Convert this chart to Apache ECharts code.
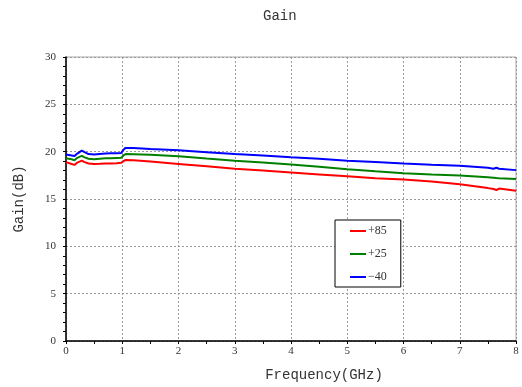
<!DOCTYPE html>
<html>
<head>
<meta charset="utf-8">
<script src="https://cdn.jsdelivr.net/npm/echarts@6/dist/echarts.min.js"></script>
<style>
  html, body { margin: 0; padding: 0; background: #fff; }
  #chart { width: 522px; height: 387px; }
</style>
</head>
<body>
<div id="chart"></div>
<script>
// frequency points (GHz)
const freq = [0, 0.1, 0.15, 0.2, 0.28, 0.33, 0.4, 0.5, 0.6, 0.7, 0.8, 0.9, 0.98, 1.02, 1.06,
  1.2, 1.5, 2, 2.5, 3, 3.5, 4, 4.5, 5, 5.5, 6, 6.5, 7, 7.5, 7.6, 7.65, 7.7, 8];

const gain85 = [18.9, 18.7, 18.6, 18.85, 19.05, 18.9, 18.75, 18.7, 18.72, 18.75, 18.75, 18.78, 18.82, 19.0, 19.12,
  19.1, 18.95, 18.7, 18.45, 18.2, 18.0, 17.8, 17.6, 17.4, 17.2, 17.05, 16.85, 16.55, 16.15, 16.05, 15.95, 16.1, 15.87];
const gain25 = [19.3, 19.2, 19.1, 19.35, 19.55, 19.4, 19.25, 19.2, 19.25, 19.3, 19.3, 19.33, 19.35, 19.6, 19.75,
  19.74, 19.67, 19.52, 19.28, 19.05, 18.85, 18.65, 18.4, 18.15, 17.92, 17.73, 17.6, 17.48, 17.3, 17.25, 17.22, 17.2, 17.1];
const gainM40 = [19.7, 19.6, 19.55, 19.8, 20.1, 19.95, 19.75, 19.7, 19.75, 19.8, 19.82, 19.83, 19.85, 20.2, 20.4,
  20.38, 20.28, 20.15, 19.95, 19.75, 19.6, 19.42, 19.25, 19.05, 18.9, 18.75, 18.62, 18.5, 18.3, 18.2, 18.3, 18.2, 18.05];

const seriesNames = ['+85', '+25', '\u221240'];
const seriesColors = ['#ff0000', '#008000', '#0000ff'];
const seriesData = [gain85, gain25, gainM40];

const monoFont = '"Liberation Mono", monospace';
const serifFont = '"Liberation Serif", serif';

const chart = echarts.init(document.getElementById('chart'));
chart.setOption({
  animation: false,
  title: {
    text: 'Gain',
    left: 258,
    top: 4,
    textStyle: { fontFamily: monoFont, fontSize: 14, fontWeight: 'normal', color: '#333' },
  },
  legend: {
    orient: 'vertical',
    left: 335,
    top: 220,
    padding: [5, 14, 4, 15],
    itemWidth: 16,
    itemHeight: 10,
    itemGap: 11,
    icon: 'path://M0,0 H16 V2 H0 Z',
    borderColor: '#000',
    borderWidth: 1,
    backgroundColor: '#fff',
    textStyle: { fontFamily: serifFont, fontSize: 12, color: '#333', padding: [0, 0, 0, -3] },
    data: seriesNames,
  },
  grid: {
    left: 66,
    right: 6,
    top: 57,
    bottom: 44,
    show: true,
    borderColor: '#aaa',
    borderWidth: 1,
  },
  xAxis: {
    type: 'value',
    min: 0,
    max: 8,
    interval: 1,
    name: 'Frequency(GHz)',
    nameLocation: 'middle',
    nameGap: 27,
    nameTextStyle: { fontFamily: monoFont, fontSize: 14, color: '#333', padding: [0, 0, 0, 66] },
    axisLine: { onZero: false, lineStyle: { color: '#000', width: 1.5 } },
    axisTick: { length: 3, lineStyle: { color: '#000' } },
    minorTick: { show: true, splitNumber: 2, length: 3, lineStyle: { color: '#000' } },
    axisLabel: { margin: 5, fontFamily: serifFont, fontSize: 11, color: '#333' },
    splitLine: { lineStyle: { color: '#999', type: [2, 2] } },
  },
  yAxis: {
    type: 'value',
    min: 0,
    max: 30,
    interval: 5,
    name: 'Gain(dB)',
    nameLocation: 'middle',
    nameGap: 40,
    nameTextStyle: { fontFamily: monoFont, fontSize: 14, color: '#333' },
    axisLine: { show: true, lineStyle: { color: '#000', width: 1.5 } },
    axisTick: { show: true, length: 3, lineStyle: { color: '#000' } },
    minorTick: { show: true, splitNumber: 5, length: 3, lineStyle: { color: '#000' } },
    axisLabel: { margin: 10, fontFamily: serifFont, fontSize: 11, color: '#333' },
    splitLine: { lineStyle: { color: '#999', type: [2, 2] } },
  },
  series: seriesNames.map((name, i) => ({
    name,
    type: 'line',
    symbol: 'none',
    color: seriesColors[i],
    lineStyle: { width: 2, color: seriesColors[i] },
    data: freq.map((f, j) => [f, seriesData[i][j]]),
  })),
});
</script>
</body>
</html>
